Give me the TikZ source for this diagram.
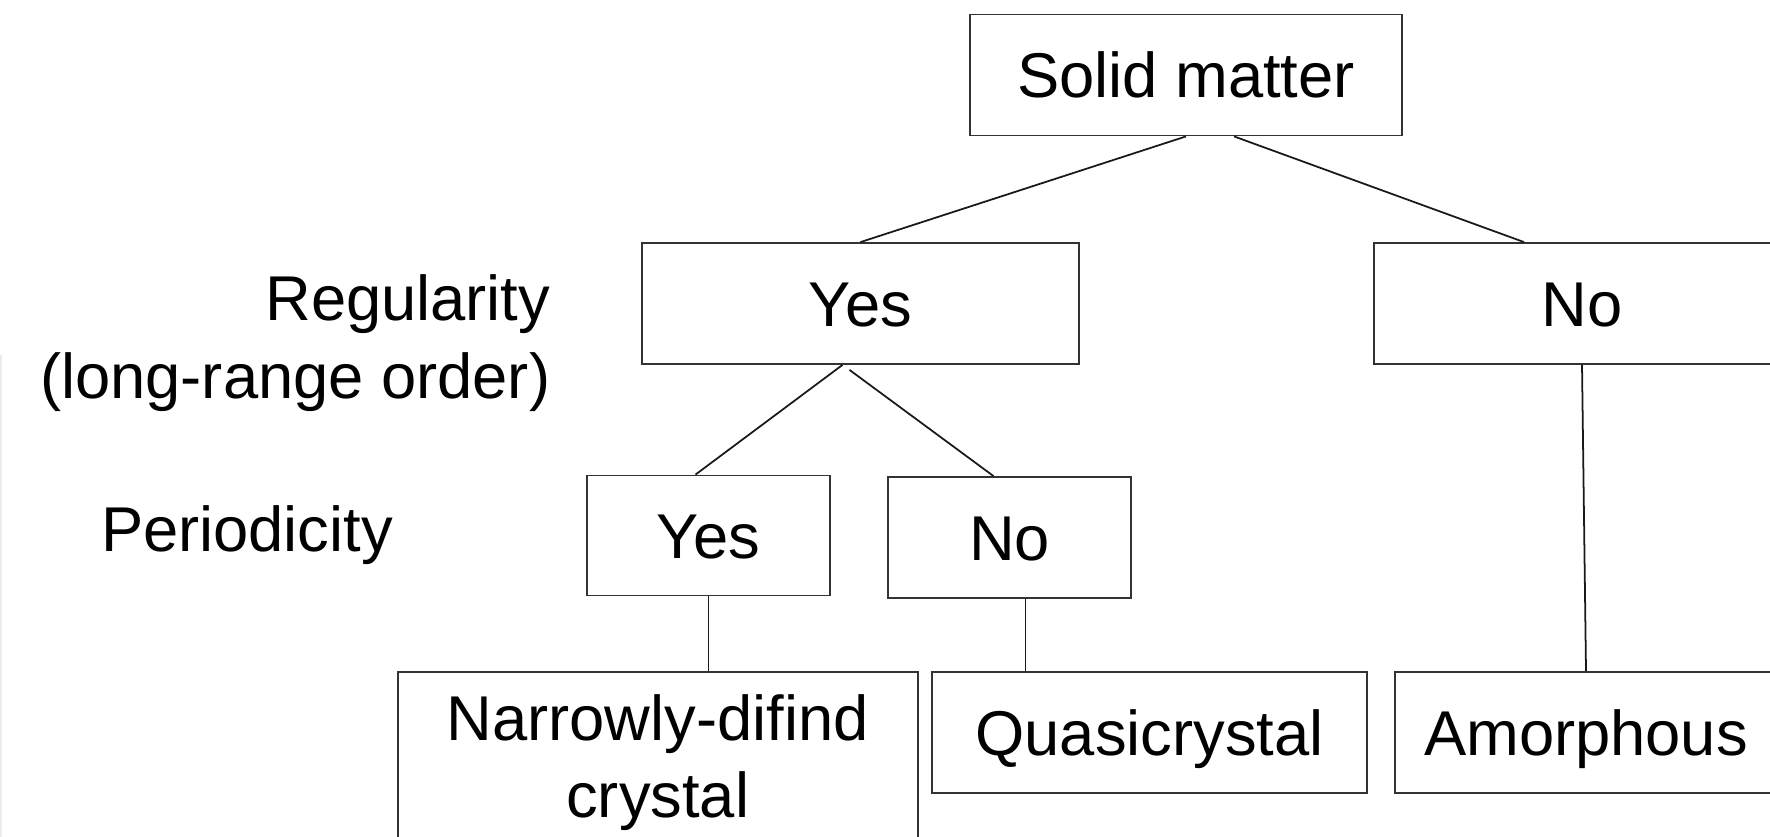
\documentclass[tikz,border=0pt]{standalone}
\usepackage{fontspec}
\setmainfont{Liberation Sans}
\usetikzlibrary{positioning}

\begin{document}
\begin{tikzpicture}[x=0.01cm, y=-0.01cm,
				box/.style={rectangle, draw=black!80, line width=0.5pt, inner sep=0pt,
					align=center, font=\fontsize{18}{22}\selectfont},
				oneline/.style={box, text height=12.9pt, text depth=0pt},
				tag/.style={inner sep=0pt, align=right, font=\fontsize{18}{22}\selectfont},
				link/.style={draw=black!90, line width=0.5pt},
				]
				\useasboundingbox (0,0) rectangle (1770,837);
				\clip (0,0) rectangle (1770,837);

				% Nodes
				\node[oneline, minimum width=4.32cm, minimum height=1.21cm] (solid) at (1186,75) {Solid matter};
				\node[oneline, minimum width=4.37cm, minimum height=1.21cm] (yes) at (860.5,303.5) {Yes};
				\node[oneline, minimum width=4.16cm, minimum height=1.21cm] (no) at (1582,303.5) {No};
				\node[oneline, minimum width=2.43cm, minimum height=1.20cm] (pyes) at (708.5,535.5) {Yes};
				\node[oneline, minimum width=2.43cm, minimum height=1.21cm] (pno) at (1009.5,537.5) {No};
				\node[box, minimum width=5.195cm, minimum height=1.81cm] (crystal) at (657.75,762.5) {Narrowly-difind\\crystal};
				\node[oneline, minimum width=4.35cm, minimum height=1.21cm] (quasi) at (1149.5,732.5) {Quasicrystal};
				\node[oneline, minimum width=3.82cm, minimum height=1.21cm] (amorph) at (1586,732.5) {Amorphous};

				% Labels
				\node[tag, anchor=east] (regular) at (551,343) {Regularity\\(long-range order)};
				\node[tag] (period) at (247,535) {Periodicity};

				% Connecting lines
				\draw[link] (solid.south) -- (yes.north);
				\draw[link] ([xshift=0.48cm]solid.south) -- ([xshift=-0.58cm]no.north);
				\draw[link] ([xshift=-0.18cm]yes.south) -- ([xshift=-0.13cm]pyes.north);
				\draw[link] ([xshift=-0.11cm,yshift=-0.05cm]yes.south) -- ([xshift=-0.16cm]pno.north);
				\draw[link] (pyes.south) -- (pyes.south |- crystal.north);
				\draw[link] ([xshift=0.16cm]pno.south) -- ([xshift=0.16cm]pno.south |- quasi.north);
				\draw[link] (no.south) -- (amorph.north);

				% Faint edge
				\draw[black!8, line width=0.4pt] (1,355) -- (1,837);
			\end{tikzpicture}
\end{document}
